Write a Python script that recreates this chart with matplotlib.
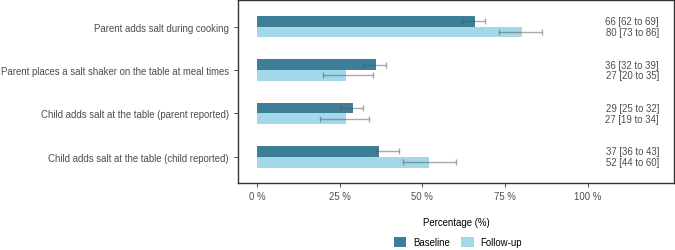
import numpy as np
import matplotlib.pyplot as plt

plt.rcParams['font.family'] = ['Liberation Sans', 'DejaVu Sans']

categories = ["Parent adds salt during cooking",
              "Parent places a salt shaker on the table at meal times",
              "Child adds salt at the table (parent reported)",
              "Child adds salt at the table (child reported)"]
baseline = [66, 36, 29, 37]
baseline_lo = [62, 32, 25, 36]
baseline_hi = [69, 39, 32, 43]
followup = [80, 27, 27, 52]
followup_lo = [73, 20, 19, 44]
followup_hi = [86, 35, 34, 60]

dark = '#3d7f99'
light = '#a3d8ea'
txt = '#4d4d4d'
fs = 6.95

fig = plt.figure(figsize=(6.75, 2.51), dpi=100)
ax = fig.add_axes([238 / 675, 1 - 184 / 251, 436 / 675, 183 / 251])

y = np.arange(len(categories))
h = 0.25
ax.barh(y - h / 2, baseline, height=h, color=dark, label='Baseline')
ax.barh(y + h / 2, followup, height=h, color=light, label='Follow-up')

for yy, v, lo, hi in [(y - h / 2, baseline, baseline_lo, baseline_hi),
                      (y + h / 2, followup, followup_lo, followup_hi)]:
    v = np.array(v)
    ax.errorbar(v, yy, xerr=[v - np.array(lo), np.array(hi) - v], fmt='none',
                ecolor='#555555', alpha=0.5, elinewidth=1, capsize=2.5, capthick=1)

for i in range(len(categories)):
    ax.text(121.5, y[i] - h / 2, f"{baseline[i]} [{baseline_lo[i]} to {baseline_hi[i]}]",
            ha='right', va='center', fontsize=fs, color=txt)
    ax.text(121.5, y[i] + h / 2, f"{followup[i]} [{followup_lo[i]} to {followup_hi[i]}]",
            ha='right', va='center', fontsize=fs, color=txt)

ax.set_xlim(-5.7, 126)
ax.set_ylim(3.6, -0.61)
ax.set_yticks(y)
ax.set_yticklabels(categories, fontsize=fs, color=txt)
ax.set_xticks([0, 25, 50, 75, 100])
ax.set_xticklabels(['0 %', '25 %', '50 %', '75 %', '100 %'], fontsize=fs, color=txt)
ax.tick_params(length=3, width=0.6, color='#333333')
ax.tick_params(axis='x', pad=2.5)
for s in ax.spines.values():
    s.set_color('#333333')
    s.set_linewidth(1)
ax.set_xlabel('Percentage (%)', fontsize=fs, color='black', labelpad=12)

ax.legend(loc='center', bbox_to_anchor=(0.5, 1 - 243 / 251), bbox_transform=fig.transFigure,
          ncol=2, frameon=False, fontsize=fs, handlelength=1.3, handleheight=1.3,
          columnspacing=1.2, handletextpad=0.7, borderpad=0.1)
ax.get_legend().set_bbox_to_anchor((458 / 675, 1 - 243 / 251), transform=fig.transFigure)

fig.savefig('out.png', dpi=100)
